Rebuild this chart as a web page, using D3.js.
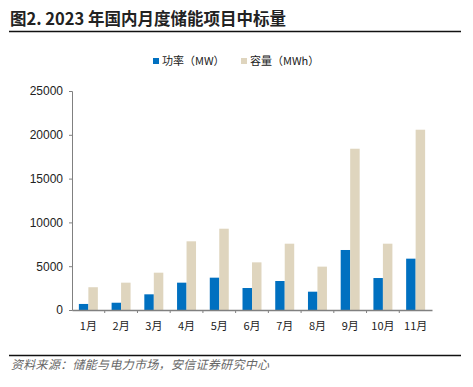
<!DOCTYPE html>
<html>
<head>
<meta charset="utf-8">
<script src="https://cdn.jsdelivr.net/npm/d3@7"></script>
<style>
  body { margin: 0; background: #fff; }
  svg { display: block; }
</style>
</head>
<body>
<svg id="chart" width="473" height="387"></svg>
<script>
const months = ["1月", "2月", "3月", "4月", "5月", "6月", "7月", "8月", "9月", "10月", "11月"];
const power = [690, 830, 1790, 3120, 3690, 2510, 3310, 2090, 6850, 3650, 5860];
const capacity = [2600, 3120, 4260, 7840, 9280, 5440, 7570, 4950, 18410, 7570, 20580];
const seriesNames = ["功率（MW）", "容量（MWh）"];
const yTicks = [0, 5000, 10000, 15000, 20000, 25000];

const colors = ["#0070C0", "#DFD5BE"];
const cjk = "'Noto Sans CJK SC', sans-serif";
const latin = "'Liberation Sans', Arial, sans-serif";

const svg = d3.select("#chart");

// header
svg.append("text")
  .attr("x", 10).attr("y", 25)
  .style("font-family", cjk).style("font-size", "16.5px").style("font-weight", "bold")
  .attr("fill", "#222")
  .text("图2. 2023 年国内月度储能项目中标量");
svg.append("line").attr("x1", 9).attr("x2", 461).attr("y1", 31.5).attr("y2", 31.5)
  .attr("stroke", "#111").attr("stroke-width", 1.5);

const margin = { left: 72, right: 41, top: 91, bottom: 77 };
const x = d3.scaleBand().domain(months).range([margin.left, 473 - margin.right]);
const y = d3.scaleLinear().domain([0, 25000]).range([387 - margin.bottom, margin.top]);
const barW = x.bandwidth() * 0.29;

// bars
const g = svg.append("g");
[power, capacity].forEach((vals, si) => {
  g.selectAll(".s" + si).data(vals).enter().append("rect")
    .attr("x", (d, i) => x(months[i]) + x.bandwidth() / 2 - barW + si * barW)
    .attr("y", d => y(d))
    .attr("width", barW)
    .attr("height", d => y(0) - y(d))
    .attr("fill", colors[si]);
});

// y axis
const yAxis = svg.append("g").attr("transform", `translate(${margin.left},0)`)
  .call(d3.axisLeft(y).tickValues(yTicks).tickSize(3).tickPadding(6).tickFormat(d3.format("d")));
yAxis.select(".domain").attr("stroke", "#808080");
yAxis.selectAll(".tick line").attr("stroke", "#808080");
yAxis.selectAll("text").style("font-family", latin).style("font-size", "12px").attr("fill", "#222");

// x axis
const xAxis = svg.append("g").attr("transform", `translate(0,${y(0)})`)
  .call(d3.axisBottom(x).tickSize(0).tickPadding(12));
xAxis.select(".domain").attr("stroke", "#808080").attr("stroke-width", 1.5);
xAxis.selectAll("text").style("font-family", cjk).style("font-size", "11px").attr("fill", "#222");
svg.append("g").selectAll("line").data(months.slice(1)).enter().append("line")
  .attr("x1", d => x(d)).attr("x2", d => x(d))
  .attr("y1", y(0)).attr("y2", y(0) + 3)
  .attr("stroke", "#808080");

// legend
const legend = svg.append("g");
const legX = [153, 241];
seriesNames.forEach((name, i) => {
  legend.append("rect").attr("x", legX[i]).attr("y", 58).attr("width", 6).attr("height", 6).attr("fill", colors[i]);
  legend.append("text").attr("x", legX[i] + 9).attr("y", 65)
    .style("font-family", cjk).style("font-size", "11px").attr("fill", "#222")
    .text(name);
});

// footer
svg.append("line").attr("x1", 9).attr("x2", 461).attr("y1", 355.5).attr("y2", 355.5)
  .attr("stroke", "#111").attr("stroke-width", 1.5);
svg.append("text")
  .attr("x", 11).attr("y", 369)
  .style("font-family", cjk).style("font-size", "12px").style("font-style", "italic")
  .style("letter-spacing", "0.3px")
  .attr("fill", "#666")
  .text("资料来源：储能与电力市场，安信证券研究中心");
</script>
</body>
</html>
